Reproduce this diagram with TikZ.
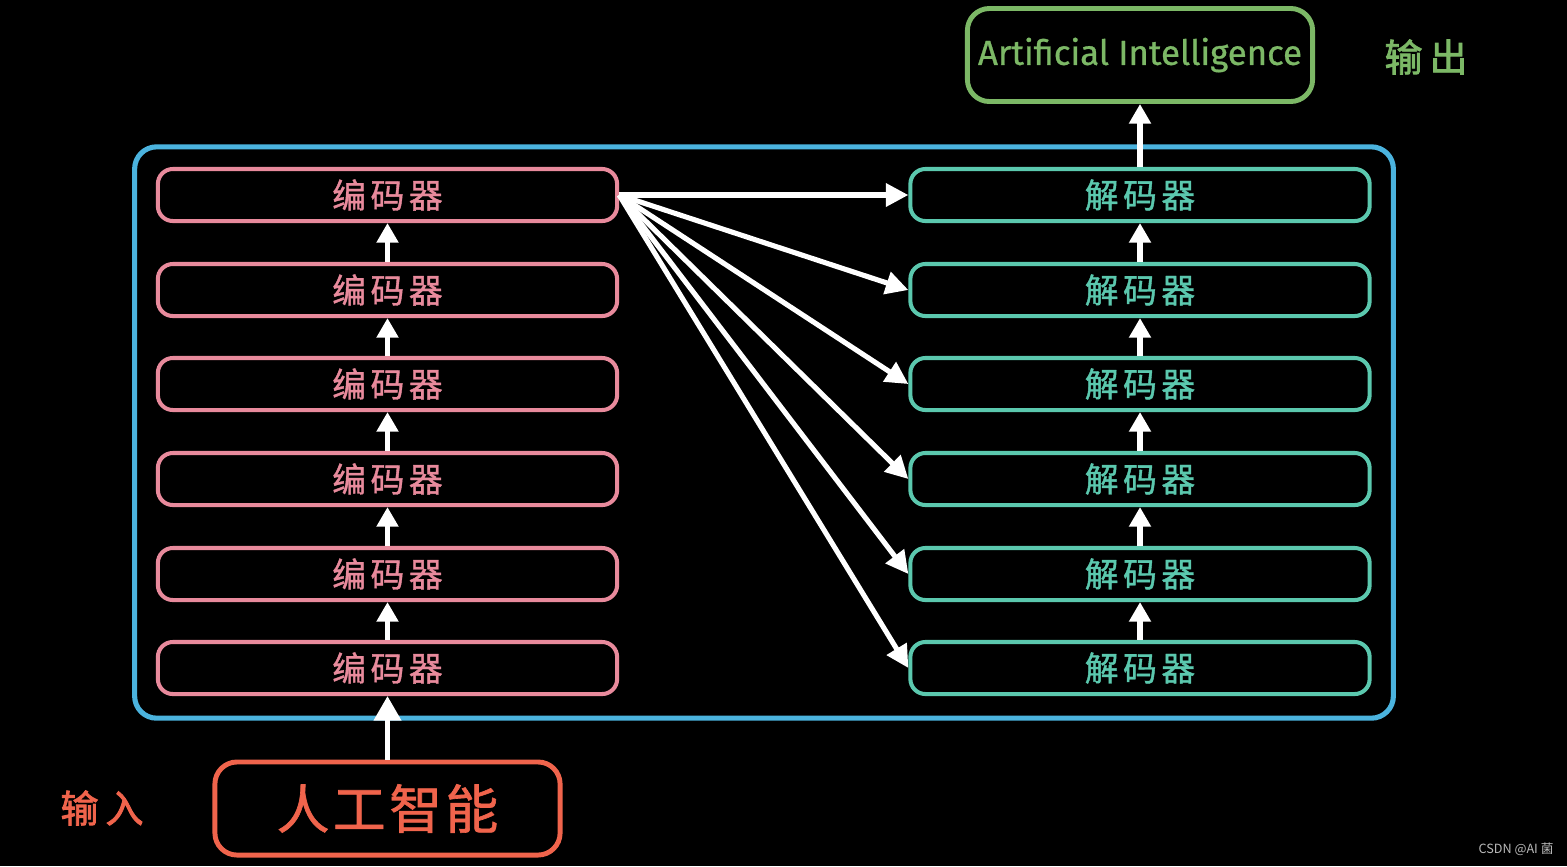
\documentclass[tikz,border=0pt]{standalone}
\usepackage{fontspec}
\setmainfont{Fira Sans}
\newfontfamily\cjk[FakeBold=1.2]{Noto Sans CJK SC}
\newfontfamily\cjkb[FakeBold=2.2]{Noto Sans CJK SC}
\newfontfamily\cjkl{Noto Sans CJK SC}
\newfontfamily\engf[FakeBold=0.8]{Fira Sans}
\usetikzlibrary{arrows.meta}
\definecolor{cblue}{RGB}{75,179,222}
\definecolor{cpink}{RGB}{232,138,156}
\definecolor{cteal}{RGB}{91,200,174}
\definecolor{cgreen}{RGB}{124,184,102}
\definecolor{corange}{RGB}{240,100,76}
\definecolor{cgray}{RGB}{185,185,185}
\tikzset{
  layer/.style={draw, rounded corners=1.5mm, line width=1.15pt, minimum width=4.59cm, minimum height=0.52cm, inner sep=0pt,
    font=\cjk\fontsize{9.6pt}{10pt}\selectfont},
  encbox/.style={layer, draw=cpink, text=cpink},
  decbox/.style={layer, draw=cteal, text=cteal},
  outerbox/.style={draw=cblue, line width=1.45pt, rounded corners=2.2mm, minimum width=12.58cm, minimum height=5.71cm, inner sep=0pt},
  iobox/.style={draw, line width=1.4pt, rounded corners=2.2mm, minimum width=3.45cm, minimum height=0.93cm, inner sep=0pt},
  varrow/.style={draw=white, line width=1.45pt, -{Triangle[length=5.6pt,width=6pt]}},
  bigarrow/.style={draw=white, line width=1.45pt, -{Triangle[length=7pt,width=7.6pt]}},
  fanarrow/.style={draw=white, line width=1.45pt, -{Triangle[length=6.4pt,width=6.4pt]}},
  sidelabel/.style={font=\cjkb\fontsize{10.8pt}{12pt}\selectfont, inner sep=0pt}
}
\begin{document}
\begin{tikzpicture}[x=0.01cm,y=-0.01cm]
\fill[black] (0,0) rectangle (1567,866);
\useasboundingbox (0,0) rectangle (1567,866);

\node[outerbox] (outer) at (764,432.5) {};

% encoders (1 = top) and decoders
\foreach \i/\yy in {1/195,2/290,3/384,4/479,5/574,6/668}{
  \node[encbox] (e\i) at (387.5,\yy) {编\hspace{1.3pt}码\hspace{1.3pt}器};
  \node[decbox] (d\i) at (1140,\yy) {解\hspace{1.3pt}码\hspace{1.3pt}器};
}

% output box
\node[iobox, draw=cgreen, text=cgreen, font=\engf\fontsize{9.9pt}{11pt}\selectfont] (ai) at (1140,55) {Artificial Intelligence};
\node[sidelabel, text=cgreen] (outl) at (1426,57) {输\hspace{2pt}出};

% input box
\node[iobox, draw=corange, text=corange, font=\cjk\fontsize{15pt}{16pt}\selectfont] (inp) at (387.5,808.5) {人\hspace{1pt}工\hspace{1pt}智\hspace{1pt}能};
\node[sidelabel, text=corange] (inl) at (102,808) {输\hspace{2pt}入};

% vertical arrows
\foreach \i/\j in {2/1,3/2,4/3,5/4,6/5}{
  \draw[varrow] (e\i.north) -- (e\j.south);
  \draw[varrow] (d\i.north) -- (d\j.south);
}
\draw[varrow] (d1.north) -- (ai.south);
\draw[bigarrow] (inp.north) -- (e6.south);

% fan arrows
\foreach \i in {1,...,6}{
  \draw[fanarrow] (e1.east) -- (d\i.west);
}

\node[text=cgray, font=\cjkl\fontsize{3.6pt}{4pt}\selectfont, inner sep=0pt] (csdn) at (1516,849) {CSDN @AI 菌};
\end{tikzpicture}
\end{document}
